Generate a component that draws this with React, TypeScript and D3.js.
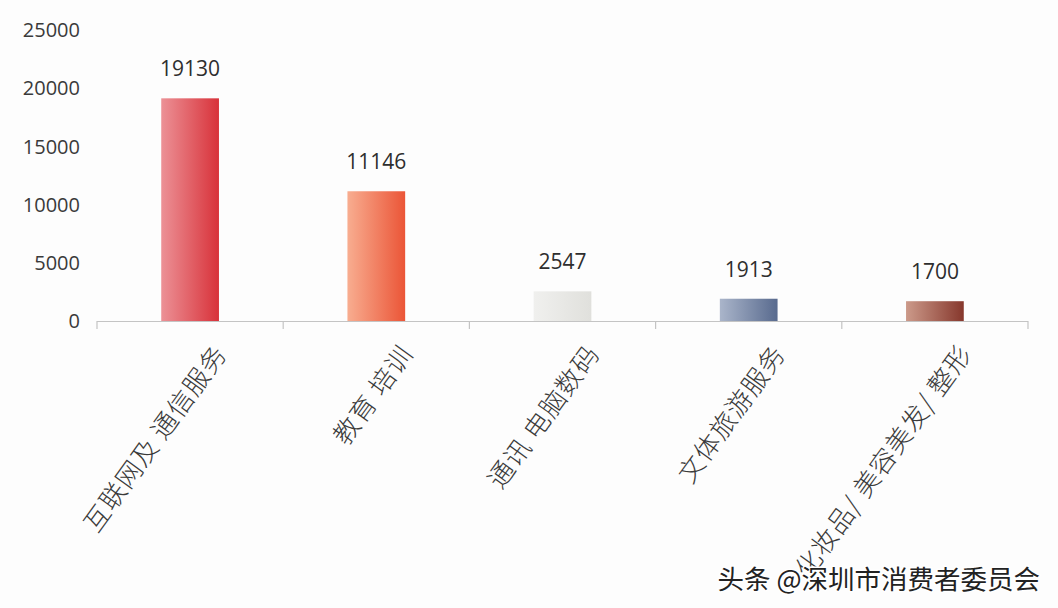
import React, { useEffect, useRef } from "react";
import * as d3 from "d3";

const categories = [
  "互联网及 通信服务",
  "教育 培训",
  "通讯 电脑数码",
  "文体旅游服务",
  "化妆品/ 美容美发/ 整形",
];
const values = [19130, 11146, 2547, 1913, 1700];
const yTicks = [0, 5000, 10000, 15000, 20000, 25000];
const gradientStops = [
  ["#ec9196", "#d8323a"],
  ["#f8ad90", "#eb5537"],
  ["#f0f0ee", "#e0e0dc"],
  ["#aab5ca", "#586a8e"],
  ["#cc9a8a", "#86372c"],
];
const watermark = "头条 @深圳市消费者委员会";

const App: React.FC = () => {
  const svgRef = useRef<SVGSVGElement | null>(null);

  useEffect(() => {
    if (!svgRef.current) return;
    const svg = d3.select(svgRef.current);
    svg.selectAll("*").remove();

    const margin = { top: 30, left: 97, right: 30, bottom: 287 };
    const width = 1058 - margin.left - margin.right;
    const height = 608 - margin.top - margin.bottom;

    const x = d3
      .scaleBand<string>()
      .domain(categories)
      .range([0, width])
      .paddingInner(0.69)
      .paddingOuter(0.345);

    const y = d3.scaleLinear().domain([0, 25000]).range([height, 0]);

    const defs = svg.append("defs");
    gradientStops.forEach(([a, b], i) => {
      const g = defs
        .append("linearGradient")
        .attr("id", `grad${i}`)
        .attr("x1", "0%")
        .attr("x2", "100%")
        .attr("y1", "0%")
        .attr("y2", "0%");
      g.append("stop").attr("offset", "0%").attr("stop-color", a);
      g.append("stop").attr("offset", "100%").attr("stop-color", b);
    });

    svg.append("rect").attr("width", 1058).attr("height", 608).attr("fill", "#fdfdfd");

    const g = svg
      .append("g")
      .attr("transform", `translate(${margin.left},${margin.top})`);

    // y tick labels (no axis line)
    g.selectAll(".ytick")
      .data(yTicks)
      .enter()
      .append("text")
      .attr("x", -17)
      .attr("y", (d) => y(d))
      .attr("dy", "0.36em")
      .attr("text-anchor", "end")
      .attr("font-family", "'Open Sans', sans-serif")
      .attr("font-size", 20)
      .attr("fill", "#3a3a3a")
      .text((d) => d);

    // bars
    g.selectAll(".bar")
      .data(values)
      .enter()
      .append("rect")
      .attr("x", (d, i) => x(categories[i])!)
      .attr("y", (d) => y(d))
      .attr("width", x.bandwidth())
      .attr("height", (d) => height - y(d))
      .attr("fill", (d, i) => `url(#grad${i})`);

    // x axis line and category ticks
    g.append("line")
      .attr("x1", 0)
      .attr("x2", width)
      .attr("y1", height + 0.5)
      .attr("y2", height + 0.5)
      .attr("stroke", "#c4c4c4")
      .attr("stroke-width", 1.2);

    const step = x.step();
    const bounds = d3.range(categories.length + 1).map((i) => i * step);
    g.selectAll(".xtick")
      .data(bounds)
      .enter()
      .append("line")
      .attr("x1", (d) => d)
      .attr("x2", (d) => d)
      .attr("y1", height)
      .attr("y2", height + 8)
      .attr("stroke", "#c4c4c4")
      .attr("stroke-width", 1.2);

    // value labels
    g.selectAll(".val")
      .data(values)
      .enter()
      .append("text")
      .attr("x", (d, i) => x(categories[i])! + x.bandwidth() / 2)
      .attr("y", (d) => y(d) - 22)
      .attr("text-anchor", "middle")
      .attr("font-family", "'Open Sans', sans-serif")
      .attr("font-size", 21)
      .attr("fill", "#2e2e2e")
      .text((d) => d);

    // rotated category labels
    g.selectAll(".cat")
      .data(categories)
      .enter()
      .append("text")
      .attr(
        "transform",
        (d) =>
          `translate(${x(d)! + x.bandwidth() / 2 + 38},${height + 33}) rotate(-54)`,
      )
      .attr("text-anchor", "end")
      .attr("font-family", "'Noto Sans CJK SC', sans-serif")
      .attr("font-size", 26)
      .attr("font-weight", 300)
      .attr("letter-spacing", 1)
      .attr("fill", "#3a3a3a")
      .text((d) => d);

    // watermark
    svg
      .append("text")
      .attr("x", 1040)
      .attr("y", 589)
      .attr("text-anchor", "end")
      .attr("font-family", "'Noto Sans CJK SC', sans-serif")
      .attr("font-size", 26.5)
      .attr("fill", "#222")
      .attr("stroke", "#fff")
      .attr("stroke-width", 3)
      .attr("paint-order", "stroke")
      .text(watermark);
  }, []);

  return (
    <svg
      ref={svgRef}
      width={1058}
      height={608}
      style={{ position: "absolute", left: 0, top: 0 }}
    ></svg>
  );
};

export default App;
